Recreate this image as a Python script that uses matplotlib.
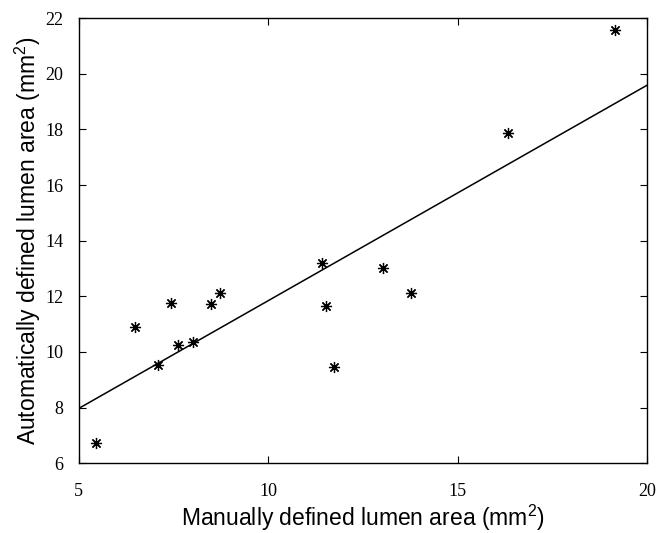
#!/usr/bin/env python3
"""Scatter of automatic vs manual lumen area with fitted line."""

import matplotlib

matplotlib.use("Agg")
import matplotlib.pyplot as plt

# values
manual_area = [5.45, 6.47, 7.09, 7.43, 7.61, 8.00, 8.50, 8.73,
               11.43, 11.52, 11.73, 13.04, 13.78, 16.32, 19.14]
auto_area = [6.74, 10.89, 9.53, 11.77, 10.26, 10.35, 11.72, 12.11,
             13.19, 11.65, 9.47, 13.00, 12.10, 17.87, 21.57]
fit_x = [5.0, 20.0]
fit_y = [7.97, 19.59]
x_ticks = [5, 10, 15, 20]
y_ticks = [6, 8, 10, 12, 14, 16, 18, 20, 22]

SERIF = "Liberation Serif"
SANS = "Liberation Sans"


def main() -> None:
    plt.rcParams["mathtext.fontset"] = "custom"
    plt.rcParams["mathtext.rm"] = SANS
    plt.rcParams["mathtext.it"] = SANS

    fig = plt.figure(figsize=(6.57, 5.33), dpi=100)
    ax = fig.add_axes([0.120, 0.131, 0.865, 0.835])

    ax.plot(fit_x, fit_y, color="black", linewidth=1.1)
    ax.plot(manual_area, auto_area, linestyle="none", marker=(8, 2, 0),
            markersize=8, markeredgewidth=0.9, color="black")

    ax.set_xlim(5, 20)
    ax.set_ylim(6, 22)
    ax.set_xticks(x_ticks)
    ax.set_yticks(y_ticks)
    ax.tick_params(direction="in", length=5, width=0.8, top=True, right=True,
                   labelsize=13)
    ax.tick_params(axis="x", pad=14)
    ax.tick_params(axis="y", pad=11)
    for lab in ax.get_xticklabels() + ax.get_yticklabels():
        lab.set_fontfamily(SERIF)
    for side in ax.spines.values():
        side.set_linewidth(1.0)

    ax.set_xlabel("Manually defined lumen area (mm$^2$)", fontsize=16.5,
                  fontfamily=SANS, labelpad=2)
    ax.set_ylabel("Automatically defined lumen area (mm$^2$)", fontsize=16.5,
                  fontfamily=SANS, labelpad=2)

    fig.savefig("out.png")
    plt.close(fig)


if __name__ == "__main__":
    main()
